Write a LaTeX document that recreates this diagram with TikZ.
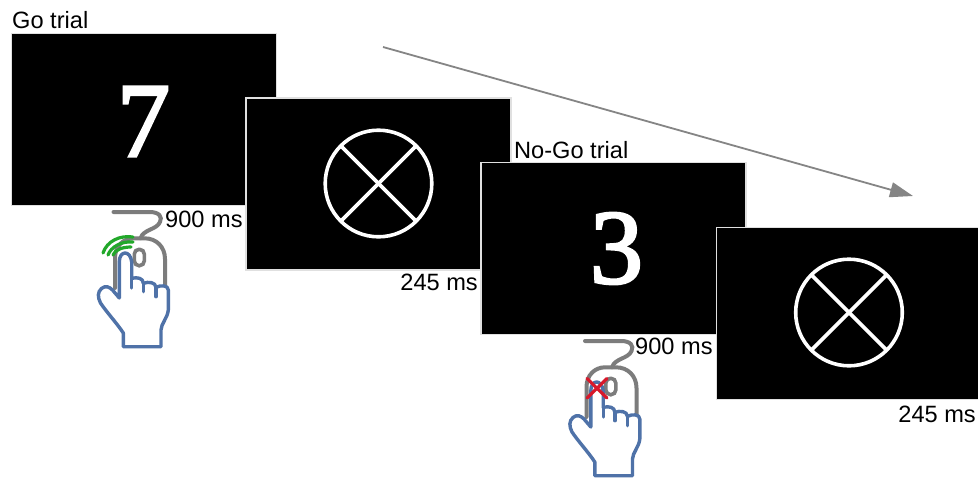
\documentclass[tikz,border=0pt]{standalone}
\usepackage{fontspec}
\setmainfont{Liberation Sans}
\newfontfamily\digitfont[FakeBold=2.5]{Liberation Serif}
\usetikzlibrary{arrows.meta}
\definecolor{handblue}{HTML}{4F72A8}
\definecolor{mousegrey}{HTML}{7C7C7C}
\definecolor{clickgreen}{HTML}{22A82A}
\definecolor{crossred}{HTML}{D8192B}
\tikzset{
  screenbox/.style={fill=black,draw=black!12,line width=1.2pt,minimum width=265pt,minimum height=172pt,inner sep=0pt,outer sep=0pt},
  lab/.style={font=\fontsize{23.6}{25}\selectfont,inner sep=0pt,text=black},
  digit/.style={font=\digitfont\fontsize{106}{106}\selectfont,text=white,inner sep=0pt},
  fixring/.style={draw=white,line width=3.6pt},
  mouseline/.style={draw=mousegrey,line width=4pt,line cap=round},
  handline/.style={draw=handblue,line width=3.4pt,line join=round,line cap=round},
  greenarc/.style={draw=clickgreen,line width=3.2pt,line cap=round},
  redstroke/.style={draw=crossred,line width=3.2pt,line cap=round},
  trendline/.style={draw=black!48,line width=1.8pt,-{Triangle[length=23pt,width=15pt,fill=black!48]}},
  pics/fixcross/.style={code={
    \draw[fixring] (0,0) circle (53.3);
    \draw[fixring] (-37.7,-37.7) -- (37.7,37.7);
    \draw[fixring] (-37.7,37.7) -- (37.7,-37.7);
  }},
  pics/mousehand/.style={code={
    % cord and body
    \draw[mouseline] (0,0) -- (36,0) .. controls (46,0) and (49,5) .. (46.5,10) .. controls (43,18) and (30,17) .. (27,26.3);
    \draw[mouseline] (1.5,76) -- (1.5,46) .. controls (1.5,34) and (10,26.3) .. (20,26.3) -- (31,26.3) .. controls (43,26.3) and (51.5,35) .. (51.5,47) -- (51.5,76);
    \draw[draw=mousegrey,line width=3.6pt,rounded corners=4.8pt] (20.8,37.3) rectangle (30.8,53.7);
    % hand
    \draw[handline,fill=white] (5.8,50) .. controls (5.8,38) and (17,38) .. (18.2,50) -- (18.2,66.3)
      .. controls (24,65) and (29.8,66) .. (29.8,71.3)
      .. controls (35,69.5) and (42,70) .. (42.5,75.3)
      .. controls (47,73) and (54.8,73) .. (54.8,78)
      -- (54.8,98) .. controls (54,106) and (47.5,112) .. (47.5,118) -- (47.5,134.7) -- (9.8,134.7) -- (9.8,121)
      .. controls (4,112) and (-7,100) .. (-13,91)
      .. controls (-16,85) and (-16,80) .. (-12,76.5)
      .. controls (-8,73) and (-4,75) .. (-1,78) -- (5.8,86) -- cycle;
    \draw[handline] (18.2,66.3) -- (18.2,76);
    \draw[handline] (29.8,71.3) -- (29.8,79.7);
    \draw[handline] (42.5,75.3) -- (42.5,84.7);
  }},
}
\begin{document}
\begin{tikzpicture}[x=1pt,y=-1pt]
\useasboundingbox (0,0) rectangle (978,477);
\fill[white] (0,0) rectangle (978,477);

\coordinate (trendstart) at (383,47);
\coordinate (trendend) at (913,196);
\draw[trendline] (trendstart) -- (trendend);

\node[screenbox] (s1) at (144,119.5) {};
\node[digit] (seven) at (143.5,121.5) {7};
\node[lab,anchor=base west] (gotitle) at (12,28) {Go trial};

\node[screenbox] (s2) at (378.5,184) {};
\pic at (378.5,183.5) {fixcross};
\node[lab,anchor=base east] (t2) at (478,290) {245 ms};

\node[screenbox] (s3) at (613.5,248.5) {};
\node[digit] (three) at (616.5,248.5) {3};
\node[lab,anchor=base west] (nogotitle) at (514,158) {No-Go trial};

\node[screenbox] (s4) at (849,313.5) {};
\pic at (849,312.5) {fixcross};
\node[lab,anchor=base east] (t4) at (976,422) {245 ms};

\node[lab,anchor=base west] (t1) at (165,227) {900 ms};
\node[lab,anchor=base west] (t3) at (635,354) {900 ms};

% Go response
\pic at (113.5,212) {mousehand};
\draw[greenarc] (103,253) .. controls (107,241) and (120,235) .. (133,237);
\draw[greenarc] (108,255) .. controls (111,247) and (121,241) .. (133,242);
\draw[greenarc] (113,255) .. controls (115,250) and (122,247) .. (131,247);

% No-Go response
\pic at (585,341) {mousehand};
\draw[redstroke] (587,378.5) -- (607,398);
\draw[redstroke] (587,398) -- (607,378.5);
\end{tikzpicture}
\end{document}
